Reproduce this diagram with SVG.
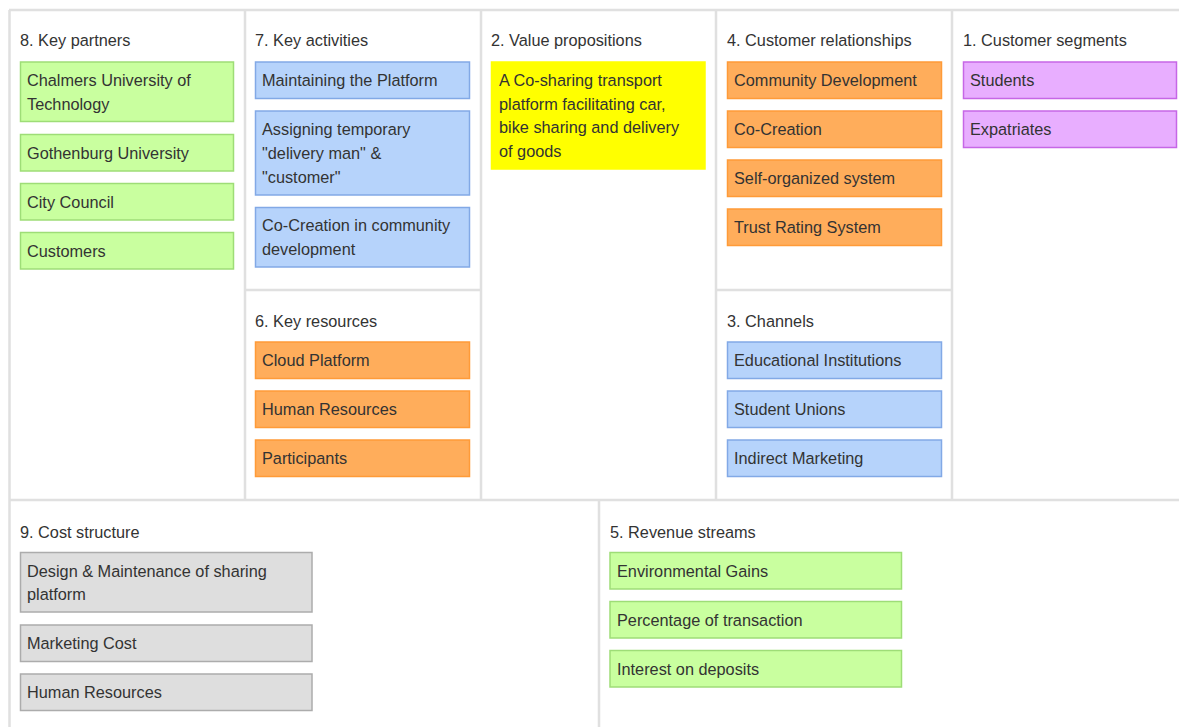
<svg xmlns="http://www.w3.org/2000/svg" width="1179" height="727" viewBox="0 0 1179 727">
<style>
text{font-family:"Liberation Sans",Arial,sans-serif;font-size:16.3px;fill:#333333}
.grid{stroke:#e0e0e0;stroke-width:2.5;fill:none}
rect{stroke-width:1.5}
.g{fill:#c9ff9f;stroke:#9edd77}
.b{fill:#b6d3fb;stroke:#82a9e6}
.o{fill:#ffad5b;stroke:#ff9b38}
.p{fill:#e8aeff;stroke:#c667e6}
.y{fill:#ffff00;stroke:#ffff00}
.k{fill:#dedede;stroke:#acacac}
</style>
<rect x="0" y="0" width="1179" height="727" fill="#ffffff" stroke="none"/>
<g id="grid" class="grid">
<path d="M9 10H1179M9.5 10V727M245 10V500M481 10V500M716 10V500M952 10V500M245 290H481M716 290H952M9 500H1179M599 500V727"/>
</g>
<g id="titles">
<text x="20" y="46">8. Key partners</text>
<text x="255" y="46">7. Key activities</text>
<text x="491" y="46">2. Value propositions</text>
<text x="727" y="46">4. Customer relationships</text>
<text x="963" y="46">1. Customer segments</text>
<text x="255" y="327">6. Key resources</text>
<text x="727" y="327">3. Channels</text>
<text x="20" y="538">9. Cost structure</text>
<text x="610" y="538">5. Revenue streams</text>
</g>
<g id="kp1"><rect class="g" x="20.5" y="62" width="213" height="59.5"/><text x="27" y="86">Chalmers University of</text><text x="27" y="110">Technology</text></g>
<g id="kp2"><rect class="g" x="20.5" y="134.5" width="213" height="36.5"/><text x="27" y="159">Gothenburg University</text></g>
<g id="kp3"><rect class="g" x="20.5" y="183.5" width="213" height="36.5"/><text x="27" y="208">City Council</text></g>
<g id="kp4"><rect class="g" x="20.5" y="232.5" width="213" height="36.5"/><text x="27" y="257">Customers</text></g>
<g id="ka1"><rect class="b" x="255.5" y="62" width="214" height="36.5"/><text x="262" y="86">Maintaining the Platform</text></g>
<g id="ka2"><rect class="b" x="255.5" y="111" width="214" height="84"/><text x="262" y="135">Assigning temporary</text><text x="262" y="159">"delivery man" &amp;</text><text x="262" y="183">"customer"</text></g>
<g id="ka3"><rect class="b" x="255.5" y="207.5" width="214" height="59.5"/><text x="262" y="231">Co-Creation in community</text><text x="262" y="255">development</text></g>
<g id="kr1"><rect class="o" x="255.5" y="342" width="214" height="36.5"/><text x="262" y="366">Cloud Platform</text></g>
<g id="kr2"><rect class="o" x="255.5" y="391" width="214" height="36.5"/><text x="262" y="415">Human Resources</text></g>
<g id="kr3"><rect class="o" x="255.5" y="440" width="214" height="36.5"/><text x="262" y="464">Participants</text></g>
<g id="vp1"><rect class="y" x="491.5" y="62" width="213.5" height="107"/><text x="499" y="86">A Co-sharing transport</text><text x="499" y="110">platform facilitating car,</text><text x="499" y="133">bike sharing and delivery</text><text x="499" y="157">of goods</text></g>
<g id="cr1"><rect class="o" x="727.5" y="62" width="214" height="36.5"/><text x="734" y="86">Community Development</text></g>
<g id="cr2"><rect class="o" x="727.5" y="111" width="214" height="36.5"/><text x="734" y="135">Co-Creation</text></g>
<g id="cr3"><rect class="o" x="727.5" y="160" width="214" height="36.5"/><text x="734" y="184">Self-organized system</text></g>
<g id="cr4"><rect class="o" x="727.5" y="209" width="214" height="36.5"/><text x="734" y="233">Trust Rating System</text></g>
<g id="ch1"><rect class="b" x="727.5" y="342" width="214" height="36.5"/><text x="734" y="366">Educational Institutions</text></g>
<g id="ch2"><rect class="b" x="727.5" y="391" width="214" height="36.5"/><text x="734" y="415">Student Unions</text></g>
<g id="ch3"><rect class="b" x="727.5" y="440" width="214" height="36.5"/><text x="734" y="464">Indirect Marketing</text></g>
<g id="cs1"><rect class="p" x="963.5" y="62" width="213" height="36.5"/><text x="970" y="86">Students</text></g>
<g id="cs2"><rect class="p" x="963.5" y="111" width="213" height="36.5"/><text x="970" y="135">Expatriates</text></g>
<g id="cost1"><rect class="k" x="20.5" y="552.5" width="291.5" height="59.5"/><text x="27" y="577">Design &amp; Maintenance of sharing</text><text x="27" y="600">platform</text></g>
<g id="cost2"><rect class="k" x="20.5" y="625" width="291.5" height="36.5"/><text x="27" y="649">Marketing Cost</text></g>
<g id="cost3"><rect class="k" x="20.5" y="674" width="291.5" height="36.5"/><text x="27" y="698">Human Resources</text></g>
<g id="rev1"><rect class="g" x="610" y="552.5" width="291.5" height="36.5"/><text x="617" y="577">Environmental Gains</text></g>
<g id="rev2"><rect class="g" x="610" y="601.5" width="291.5" height="36.5"/><text x="617" y="626">Percentage of transaction</text></g>
<g id="rev3"><rect class="g" x="610" y="650.5" width="291.5" height="36.5"/><text x="617" y="675">Interest on deposits</text></g>
<g id="connectors"/>
</svg>
